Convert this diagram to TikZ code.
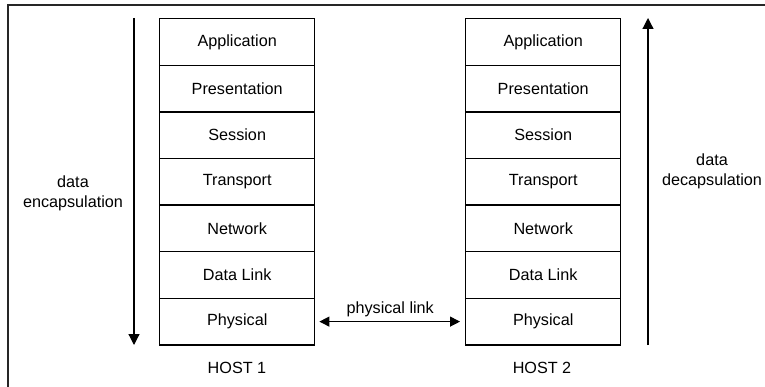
\documentclass[tikz,border=0pt]{standalone}
\usepackage{fontspec}
\setmainfont{Liberation Sans}
\usetikzlibrary{arrows.meta}
\begin{document}
\begin{tikzpicture}[x=1pt,y=-1pt,
  layer/.style={draw=black,line width=1.4pt,minimum width=155pt,minimum height=46.6pt,inner sep=0pt,font=\fontsize{16.2}{18}\selectfont,anchor=north west},
  lbl/.style={font=\fontsize{16.2}{20}\selectfont,align=center,inner sep=0pt},
  tip/.style={-{Triangle[width=11pt,length=11pt]},line width=1.2pt},
  dtip/.style={{Triangle[width=10pt,length=10pt]}-{Triangle[width=10pt,length=10pt]},line width=1.2pt,shorten <=4pt,shorten >=5pt}]
\useasboundingbox (0,0) rectangle (765,387);
\fill[white] (0,0) rectangle (765,387);
\draw[line width=2pt,black!85] (8,387) -- (8,5) -- (765,5);
\foreach \h/\x in {1/159,2/465}{
  \node[layer] (a\h) at (\x,18) {Application};
  \node[layer] (b\h) at (\x,64.6) {Presentation};
  \node[layer] (c\h) at (\x,111.2) {Session};
  \node[layer] (d\h) at (\x,157.8) {Transport};
  \node[layer] (e\h) at (\x,204.4) {Network};
  \node[layer] (f\h) at (\x,251) {Data Link};
  \node[layer] (g\h) at (\x,297.6) {Physical};
}
\node[lbl] (host1) at (237,368) {HOST 1};
\node[lbl] (host2) at (542,368) {HOST 2};
\coordinate (l1) at (134,18);
\coordinate (l2) at (134,345);
\coordinate (r1) at (648,345);
\coordinate (r2) at (648,18);
\draw[tip] (l1) -- (l2);
\draw[tip] (r1) -- (r2);
\node[lbl] (enc) at (73,193) {data\\encapsulation};
\node[lbl] (dec) at (712,171) {data\\decapsulation};
\draw[dtip] (g1.east) -- node[lbl,above=4pt] (pl) {physical link} (g2.west);
\end{tikzpicture}
\end{document}
